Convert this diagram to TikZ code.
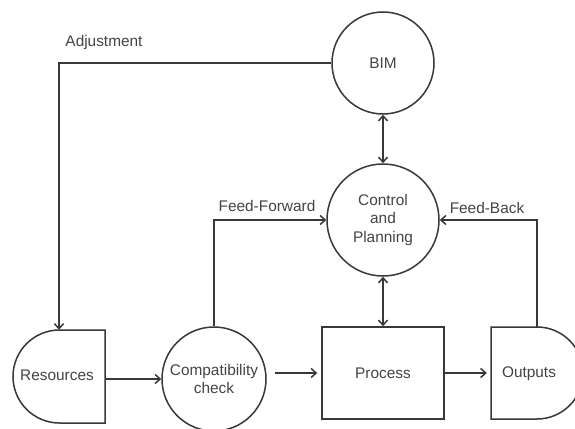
\documentclass[tikz,border=0pt]{standalone}
\usepackage{fontspec}
\setmainfont{Liberation Sans}
\usetikzlibrary{arrows.meta}
\definecolor{ln}{HTML}{383838}
\definecolor{tx}{HTML}{444444}
\begin{document}
\begin{tikzpicture}[x=1pt,y=-1pt,
  every node/.style={font=\fontsize{15.4}{18.5}\selectfont, text=tx},
  lineS/.style={draw=ln, line width=1.5pt},
  arr/.style={lineS, -{Straight Barb[length=5pt,width=9pt]}},
  darr/.style={lineS, {Straight Barb[length=5pt,width=9pt]}-{Straight Barb[length=5pt,width=9pt]}},
  circ/.style={circle, lineS, inner sep=0pt, align=center},
  box/.style={rectangle, inner sep=0pt, align=center}]
\useasboundingbox (0,0) rectangle (575,428);
\fill[white] (0,0) rectangle (575,428);

\node[circ, minimum size=102pt] (bim) at (383,63) {BIM};
\node[circ, minimum size=112pt] (ctrl) at (383,220) {Control\\and\\Planning};
\node[circ, minimum size=104pt] (cc) at (214,379) {Compatibility\\check};
\node[box, lineS, minimum width=122pt, minimum height=92pt] (proc) at (383,373) {Process};
\node[box, minimum width=92pt, minimum height=93pt] (res) at (59,376.5) {};
\node[box, minimum width=92pt, minimum height=92pt] (out) at (537,373) {};

% D-shapes
\draw[lineS] (105,330) -- (59.5,330) arc[start angle=270, end angle=90, radius=46.5] -- (105,423) -- cycle;
\draw[lineS] (491,327) -- (537,327) arc[start angle=-90, end angle=90, radius=46] -- (491,419) -- cycle;
\node at (57,375) {Resources};
\node at (529,374) {Outputs};

% connectors
\draw[arr] (bim.west) -| (res.north);
\node at (104,43) {Adjustment};
\draw[darr] (bim.south) -- (ctrl.north);
\draw[darr] (ctrl.south) -- (proc.north);
\draw[arr] (cc.north) |- (ctrl.west);
\node at (267,206) {Feed-Forward};
\draw[arr] (out.north) |- (ctrl.east);
\node at (487,208) {Feed-Back};
\draw[arr] (res.east |- cc) -- (cc.west);
\draw[arr, shorten <=8pt, shorten >=4pt] (cc.east |- proc.west) -- (proc.west);
\draw[arr, shorten >=4pt] (proc.east) -- (out.west);
\end{tikzpicture}
\end{document}
